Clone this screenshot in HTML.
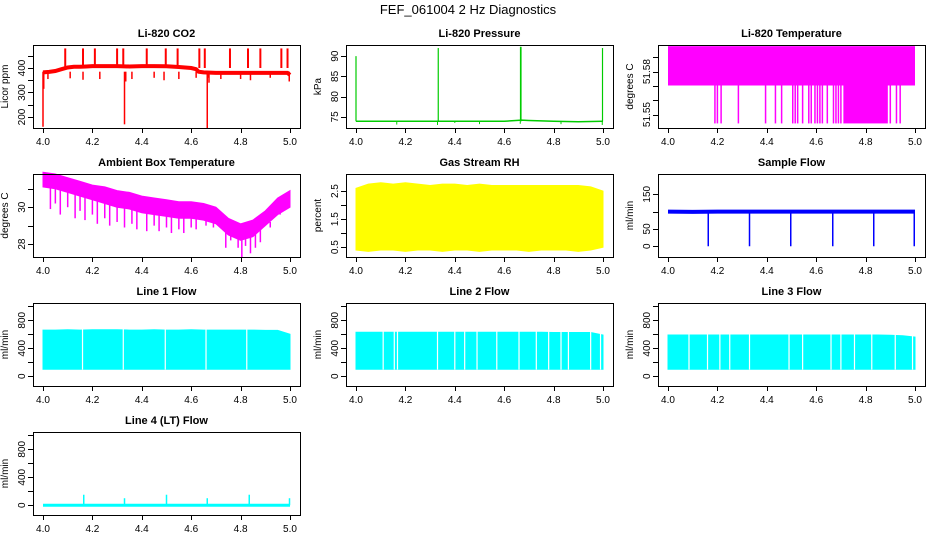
<!DOCTYPE html>
<html><head><meta charset="utf-8"><style>
html,body{margin:0;padding:0;background:#fff;}
svg{display:block;font-family:"Liberation Sans",Arial,sans-serif;}
</style></head><body>
<svg id="chart" width="936" height="540" viewBox="0 0 936 540" xmlns="http://www.w3.org/2000/svg">
<text x="468" y="14" text-anchor="middle" font-size="13">FEF_061004  2 Hz Diagnostics</text>
</svg>
<script>
// ---- shared x ticks ----
const xTicks = [4.0, 4.2, 4.4, 4.6, 4.8, 5.0];
const xTickLabels = ["4.0", "4.2", "4.4", "4.6", "4.8", "5.0"];
const gridX = [0,0.05,0.1,0.15,0.2,0.25,0.3,0.35,0.4,0.45,0.5,0.55,0.6,0.65,0.7,0.75,0.8,0.85,0.9,0.95,1.0];

// ---- CO2 ----
const co2X = [4.0,4.025,4.05,4.075,4.1,4.125,4.15,4.175,4.2,4.25,4.3,4.35,4.4,4.45,4.5,4.55,4.6,4.62,4.63,4.65,4.7,4.75,4.8,4.85,4.9,4.95,4.99,5.0];
const co2Base = [382,384,388,395,402,405,405,406,408,408,408,406,408,408,407,404,400,395,385,382,380,380,380,380,380,380,380,372];
const co2UpX = [4.09,4.162,4.21,4.30,4.325,4.42,4.497,4.545,4.633,4.655,4.757,4.83,4.88,4.965,4.99];
const co2UpV = [480,480,480,480,480,480,480,480,480,480,480,480,480,480,480];
const co2DnX = [4.0,4.003,4.02,4.11,4.162,4.23,4.33,4.335,4.36,4.45,4.49,4.55,4.62,4.665,4.668,4.672,4.68,4.72,4.80,4.84,4.92,4.997];
const co2DnV = [160,315,355,358,352,355,170,345,355,360,350,355,360,155,360,340,375,355,355,350,360,345];

// ---- Pressure ----
const prX = [4.0,4.1,4.2,4.3,4.4,4.5,4.6,4.67,4.7,4.8,4.9,5.0];
const prBase = [73.9,73.9,73.9,73.9,73.9,73.9,73.9,74.2,74.1,73.9,73.8,73.9];
const prSpikeX = [4.0,4.333,4.666,4.668,4.998];
const prSpikeV = [90,92,92.3,92.3,92];
const prDipX = [4.165,4.33,4.40,4.50,4.665,4.83,4.997];
const prDipV = [73.1,73.0,73.5,73.2,73.3,73.2,73.0];

// ---- Li-820 Temperature ----
const ltTop = 51.5978;
const ltBand = 51.5703;
const ltLow = 51.5438;
const ltDropX = [4.19,4.20,4.215,4.285,4.395,4.435,4.46,4.505,4.515,4.525,4.545,4.57,4.58,4.595,4.605,4.615,4.625,4.645,4.67,4.68,4.69,4.70,4.90,4.925,4.94];
const ltDenseFrom = 4.71;
const ltDenseTo = 4.89;

// ---- Ambient box temperature ----
const ambX = [4.0,4.05,4.1,4.15,4.2,4.25,4.3,4.35,4.4,4.45,4.5,4.55,4.6,4.65,4.7,4.75,4.8,4.85,4.9,4.95,5.0];
const ambUp = [31.9,31.8,31.6,31.4,31.2,31.1,30.9,30.8,30.6,30.5,30.4,30.3,30.3,30.2,30.0,29.4,29.1,29.3,29.8,30.5,30.9];
const ambLo = [31.1,31.0,30.8,30.6,30.4,30.2,30.0,29.9,29.7,29.6,29.5,29.4,29.4,29.3,29.1,28.5,28.2,28.4,29.0,29.6,30.0];
const ambDnX = [4.03,4.05,4.07,4.10,4.13,4.15,4.17,4.20,4.22,4.25,4.27,4.30,4.33,4.36,4.38,4.42,4.45,4.47,4.50,4.52,4.55,4.57,4.60,4.62,4.66,4.69,4.74,4.76,4.79,4.805,4.82,4.84,4.86,4.88,4.92,4.96];
const ambDnV = [29.9,30.2,29.6,30.0,29.4,29.8,29.3,29.6,29.1,29.4,29.0,29.2,28.9,29.1,28.8,28.7,29.0,28.7,28.9,28.6,28.8,28.6,28.9,28.8,29.0,28.9,27.8,28.2,27.8,27.3,27.9,27.5,27.8,28.1,28.9,29.6];

// ---- Gas stream RH ----
const rhX = [4.0,4.05,4.1,4.15,4.2,4.25,4.3,4.35,4.4,4.45,4.5,4.55,4.6,4.65,4.7,4.75,4.8,4.85,4.9,4.95,5.0];
const rhUp = [2.6,2.75,2.8,2.75,2.8,2.75,2.7,2.75,2.75,2.7,2.75,2.7,2.7,2.7,2.7,2.7,2.7,2.7,2.7,2.65,2.5];
const rhLo = [0.4,0.35,0.4,0.4,0.35,0.4,0.4,0.35,0.4,0.4,0.35,0.4,0.4,0.4,0.35,0.4,0.4,0.4,0.35,0.4,0.5];

// ---- Sample flow ----
const sfX = [4.0,4.1,4.2,4.3,4.4,4.5,4.6,4.7,4.8,4.9,5.0];
const sfBase = [100,99,100,100,100,100,100,100,100,100,100];
const sfDipX = [4.163,4.33,4.497,4.667,4.833,4.997];
const sfDipV = [0,0,0,0,0,0];

// ---- Line flows ----
const l1Up = [660,660,665,660,665,665,665,660,660,665,660,660,665,660,660,660,660,660,655,655,600];
const l1Gaps = [4.16,4.325,4.495,4.66,4.825];
const l2Up = [630,630,630,630,630,630,630,630,630,630,630,630,630,630,630,630,625,625,625,625,590];
const l2Gaps = [4.11,4.155,4.168,4.33,4.40,4.44,4.49,4.57,4.66,4.73,4.78,4.83,4.86,4.95,4.99];
const l3Up = [590,590,590,590,590,590,590,590,590,590,590,590,590,590,590,590,590,590,585,580,560];
const l3Gaps = [4.085,4.16,4.21,4.25,4.33,4.49,4.545,4.66,4.70,4.755,4.825,4.92,4.99];
const flowLo = 100;
const l4SpikeX = [4.165,4.33,4.5,4.665,4.835,4.998];
const l4SpikeV = [150,100,150,100,150,100];

const NS = "http://www.w3.org/2000/svg";
const svg = document.getElementById("chart");
function mk(tag, attrs, parent){
  const e = document.createElementNS(NS, tag);
  for (const k in attrs) e.setAttribute(k, attrs[k]);
  (parent||svg).appendChild(e);
  return e;
}
const colL = [33, 346, 658], rowT = [45, 174, 303, 432], W = 267, H = 83;

function panel(name, c, r, title, ylab, ymin, ymax, yt, ylabels){
  const L = colL[c], T = rowT[r];
  const g = mk("g", {});
  
  
  const sx = v => L + 10 + (v - 4.0) * 247;
  const sy = v => T + H - (v - ymin) / (ymax - ymin) * H;
  const t = mk("text", {x: L + W/2, y: T - 8, "text-anchor": "middle", "font-size": 11, "font-weight": "bold"}, g);
  t.textContent = title;
  
  
  const yl = mk("text", {x: 0, y: 0, "text-anchor": "middle", "font-size": 10, transform: `translate(${L-25},${T+H/2}) rotate(-90)`}, g);
  yl.textContent = ylab;
  
  
  const data = mk("g", {}, g);
  
  
  const ax = mk("g", {stroke: "#000", "stroke-width": 1, fill: "none"}, g);
  
  
  mk("rect", {x: L + .5, y: T + .5, width: W, height: H}, ax);
  xTicks.forEach((v, i) => {
    mk("line", {x1: Math.round(sx(v))+.5, x2: Math.round(sx(v))+.5, y1: T+H, y2: T+H+5}, ax);
    const tl = mk("text", {x: sx(v), y: T+H+17, "text-anchor": "middle", "font-size": 10, stroke: "none", fill: "#000"}, g);
    tl.textContent = xTickLabels[i];
    
    
  });
  yt.forEach((v, i) => {
    const y = Math.round(sy(v)) + .5;
    mk("line", {x1: L-5, x2: L, y1: y, y2: y}, ax);
    if (ylabels[i]) {
      const tl = mk("text", {x: 0, y: 0, "text-anchor": "middle", "font-size": 10, transform: `translate(${L-8},${sy(v)}) rotate(-90)`}, g);
      tl.textContent = ylabels[i];
      
      
    }
  });
  return {sx, sy, g: data, T, L};
}
function poly(p, xs, ys, color, w){
  const pts = xs.map((x, i) => p.sx(x).toFixed(1) + "," + p.sy(ys[i]).toFixed(1)).join(" ");
  return mk("polyline", {points: pts, fill: "none", stroke: color, "stroke-width": w}, p.g);
}
function vline(p, x, y1, y2, color, w){
  return mk("line", {x1: p.sx(x), x2: p.sx(x), y1: p.sy(y1), y2: p.sy(y2), stroke: color, "stroke-width": w}, p.g);
}
function band(p, xs, up, lo, color){
  const a = xs.map((x, i) => p.sx(x).toFixed(1) + "," + p.sy(up[i]).toFixed(1));
  const b = xs.map((x, i) => p.sx(x).toFixed(1) + "," + p.sy(Array.isArray(lo) ? lo[i] : lo).toFixed(1)).reverse();
  return mk("polygon", {points: a.concat(b).join(" "), fill: color, stroke: color, "stroke-width": 1}, p.g);
}

// CO2
let p = panel("co2", 0, 0, "Li-820 CO2", "Licor ppm", 155, 494, [200,250,300,350,400,450], ["200","","300","","400",""]);
poly(p, co2X, co2Base, "#ff0000", 4);
co2UpX.forEach((x, i) => vline(p, x, 400, co2UpV[i], "#ff0000", 2));
co2DnX.forEach((x, i) => vline(p, x, 385, co2DnV[i], "#ff0000", 1.5));

// Pressure
p = panel("pressure", 1, 0, "Li-820 Pressure", "kPa", 72.25, 92.75, [75,80,85,90], ["75","80","85","90"]);
poly(p, prX, prBase, "#00cc00", 1.5);
prSpikeX.forEach((x, i) => vline(p, x, 73.9, prSpikeV[i], "#00cc00", 1.2));
prDipX.forEach((x, i) => vline(p, x, 73.9, prDipV[i], "#00cc00", 1));

// Li-820 temperature
p = panel("li820-temperature", 2, 0, "Li-820 Temperature", "degrees C", 51.5406, 51.5986, [51.55,51.56,51.57,51.58,51.59], ["51.55","","","51.58",""]);
mk("rect", {x: p.sx(4.0), y: p.sy(ltTop), width: p.sx(5.0)-p.sx(4.0), height: p.sy(ltBand)-p.sy(ltTop), fill: "#ff00ff"}, p.g);
mk("rect", {x: p.sx(ltDenseFrom), y: p.sy(ltBand), width: p.sx(ltDenseTo)-p.sx(ltDenseFrom), height: p.sy(ltLow)-p.sy(ltBand), fill: "#ff00ff"}, p.g);
ltDropX.forEach(x => vline(p, x, ltBand, ltLow, "#ff00ff", 1.5));

// Ambient
p = panel("ambient-temperature", 0, 1, "Ambient Box Temperature", "degrees C", 27.3, 31.8, [28,29,30,31], ["28","","30",""]);
band(p, ambX, ambUp, ambLo, "#ff00ff");
ambDnX.forEach((x, i) => vline(p, x, ambLo[Math.round((x-4)/0.05)] + 0.2, ambDnV[i], "#ff00ff", 1.5));

// RH
p = panel("gas-stream-rh", 1, 1, "Gas Stream RH", "percent", 0.15, 3.11, [0.5,1.0,1.5,2.0,2.5], ["0.5","","1.5","","2.5"]);
band(p, rhX, rhUp, rhLo, "#ffff00");

// Sample flow
p = panel("sample-flow", 2, 1, "Sample Flow", "ml/min", -31, 208.5, [0,50,100,150], ["0","50","","150"]);
poly(p, sfX, sfBase, "#0000ff", 4);
sfDipX.forEach((x, i) => vline(p, x, 100, sfDipV[i], "#0000ff", 1.5));

// Line flows
const flowTicks = [0,200,400,600,800,1000];
const flowLabels = ["0","","400","","800",""];
function flowPanel(name, c, r, title, up, gaps){
  const q = panel(name, c, r, title, "ml/min", -140, 1047, flowTicks, flowLabels);
  band(q, gridX.map(v => 4 + v), up, flowLo, "#00ffff");
  gaps.forEach(x => vline(q, x, flowLo - 5, 700, "#ffffff", 1.2));
  return q;
}
flowPanel("line1-flow", 0, 2, "Line 1 Flow", l1Up, l1Gaps);
flowPanel("line2-flow", 1, 2, "Line 2 Flow", l2Up, l2Gaps);
flowPanel("line3-flow", 2, 2, "Line 3 Flow", l3Up, l3Gaps);
p = panel("line4-flow", 0, 3, "Line 4 (LT) Flow", "ml/min", -140, 1047, flowTicks, flowLabels);
poly(p, [4.0, 5.0], [0, 0], "#00ffff", 3);
l4SpikeX.forEach((x, i) => vline(p, x, 0, l4SpikeV[i], "#00ffff", 1.5));
</script>
</body></html>
